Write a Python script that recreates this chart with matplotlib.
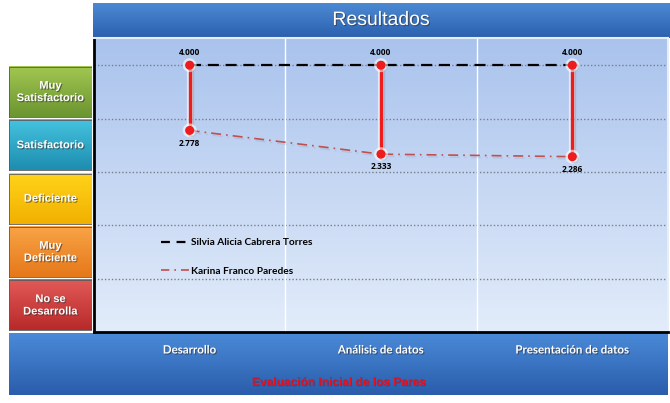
import numpy as np
import matplotlib
matplotlib.use("Agg")
import matplotlib.pyplot as plt
import matplotlib.patheffects as pe
from matplotlib.lines import Line2D

# evaluation results per criterion
categories = ["Desarrollo", "Análisis de datos", "Presentación de datos"]
silvia = [4.000, 4.000, 4.000]
karina = [2.778, 2.333, 2.286]
series_names = ["Silvia Alicia Cabrera Torres", "Karina Franco Paredes"]

# rating bands from lowest (-1..0) to highest (3..4)
levels = ["No se\nDesarrolla", "Muy\nDeficiente", "Deficiente",
          "Satisfactorio", "Muy\nSatisfactorio"]
level_colors = [("#e25a57", "#b82a2a"), ("#f9a446", "#e5781a"),
                ("#ffd31a", "#f2b000"), ("#44c3df", "#1e8db0"),
                ("#a2c651", "#6b9530")]

W, H = 670, 403


def fig_rect(x0, y0, x1, y1):
    """Pixel box (top-left origin) -> figure fraction rect."""
    return [x0 / W, 1 - y1 / H, (x1 - x0) / W, (y1 - y0) / H]


def vgrad(ax, top, bottom, extent, zorder=0):
    c0 = np.array(matplotlib.colors.to_rgb(top))
    c1 = np.array(matplotlib.colors.to_rgb(bottom))
    t = np.linspace(0, 1, 64)[:, None]
    img = (c0 * (1 - t) + c1 * t)[:, None, :]
    ax.imshow(img, extent=extent, aspect="auto", origin="upper",
              interpolation="bicubic", zorder=zorder)


fig = plt.figure(figsize=(W / 100, H / 100), dpi=100)
fig.patch.set_facecolor("white")

bold_sans = ["Lato", "DejaVu Sans"]
num_font = ["Open Sans", "DejaVu Sans"]
arial = ["Liberation Sans", "DejaVu Sans"]
txt_shadow = [pe.withSimplePatchShadow(offset=(0.8, -0.8), shadow_rgbFace="#333333", alpha=0.6)]

# title bar
ax_t = fig.add_axes(fig_rect(93, 3, 670, 38))
vgrad(ax_t, "#4c89d3", "#2b60ae", (0, 1, 0, 1))
ax_t.set_xlim(0, 1)
ax_t.set_ylim(0, 1)
ax_t.axis("off")
ax_t.text(0.5, 0.5, "Resultados", color="white", fontsize=14, family=arial,
          ha="center", va="center", path_effects=txt_shadow)

# bottom bar
ax_b = fig.add_axes(fig_rect(9, 333, 668, 395))
vgrad(ax_b, "#4a8ad8", "#2a5dab", (0, 1, 0, 1))
ax_b.set_xlim(0, 1)
ax_b.set_ylim(0, 1)
ax_b.axis("off")
ax_b.text(0.5, 0.2, "Evaluación Inicial de los Pares", color="#e8101e",
          fontsize=8.6, fontweight="bold", family=arial, ha="center", va="center",
          path_effects=[pe.withSimplePatchShadow(offset=(0.5, -0.5),
                                                 shadow_rgbFace="#102040", alpha=0.3)])

# main plot
ax = fig.add_axes(fig_rect(94, 38, 668, 332))
ax.set_xlim(-0.5, 2.5)
ax.set_ylim(-1, 4.51)
vgrad(ax, "#aac3ed", "#e2ecfa", (-0.5, 2.5, -1, 4.51), zorder=0)

for yv in range(0, 5):
    ax.axhline(yv, color="#7a7f88", lw=1.0, ls=(0, (1, 1.5)), zorder=1)
for xv in (0.5, 1.5):
    ax.axvline(xv, color="white", lw=1.0, zorder=1)

x = np.arange(len(categories))
ax.plot(x, silvia, color="black", lw=1.6, ls=(0, (5, 3)), zorder=3)
ax.plot(x, karina, color="#c0504d", lw=1.2, ls=(0, (6, 3, 1, 3)), zorder=3,
        path_effects=[pe.SimpleLineShadow(offset=(1, -1.5), shadow_color="#8090a8",
                                          alpha=0.2), pe.Normal()])

# high-low lines between the two evaluators
for xi, hi, lo in zip(x, silvia, karina):
    ax.plot([xi, xi], [lo, hi], color="#ee1c1c", lw=2.4, marker="o", ms=5.5,
            solid_capstyle="butt", zorder=4,
            path_effects=[pe.Stroke(linewidth=4.5, foreground="white", alpha=0.6),
                          pe.SimpleLineShadow(offset=(1.5, -1.5), shadow_color="#6b7380",
                                              alpha=0.25),
                          pe.Normal()])
    ax.annotate(f"{hi:.3f}", (xi, hi), xytext=(0, 6), textcoords="offset points",
                ha="center", va="bottom", fontsize=6, fontweight="bold",
                family=num_font, zorder=5)
    ax.annotate(f"{lo:.3f}", (xi, lo), xytext=(0, -6), textcoords="offset points",
                ha="center", va="top", fontsize=6, fontweight="bold",
                family=num_font, zorder=5)

ax.set_yticks([])
ax.set_xticks(x)
ax.set_xticklabels(categories, color="white", fontsize=8.3, fontweight="bold",
                   family=bold_sans)
ax.tick_params(axis="x", length=0, pad=9)
for lbl in ax.get_xticklabels():
    lbl.set_path_effects(txt_shadow)
for s in ("top", "right"):
    ax.spines[s].set_color("#e8eef8")
    ax.spines[s].set_linewidth(1.5)
for s in ("left", "bottom"):
    ax.spines[s].set_color("black")
    ax.spines[s].set_linewidth(2)

handles = [
    Line2D([0], [0], color="black", lw=1.6, ls=(0, (4, 3))),
    Line2D([0], [0], color="#c0504d", lw=1.2, ls=(0, (5, 3, 1, 3))),
]
leg = ax.legend(handles, series_names, loc="upper left", bbox_to_anchor=(0.1, 0.35),
                frameon=False, handlelength=2.8, handletextpad=0.25, labelspacing=1.9,
                prop={"family": bold_sans, "weight": "bold", "size": 7.3})
leg.set_zorder(6)

# rating band labels on the left, sharing the value scale
ax_l = fig.add_axes(fig_rect(9, 38, 92, 332), sharey=ax)
ax_l.set_xlim(0, 1)
ax_l.axis("off")
for i, (name, (c_top, c_bot)) in enumerate(zip(levels, level_colors)):
    lo, hi = i - 1 + 0.03, i - 0.03
    vgrad(ax_l, c_top, c_bot, (0, 1, lo, hi), zorder=1)
    ax_l.plot([0, 1, 1, 0, 0], [lo, lo, hi, hi, lo], color="#5a5a5a", lw=0.6, zorder=2)
    ax_l.text(0.5, (lo + hi) / 2, name, color="white", fontsize=8, fontweight="bold",
              family=arial, ha="center", va="center", linespacing=1.3,
              path_effects=txt_shadow, zorder=3)
ax_l.set_ylim(-1, 4.51)

fig.savefig("out.png", dpi=100)
